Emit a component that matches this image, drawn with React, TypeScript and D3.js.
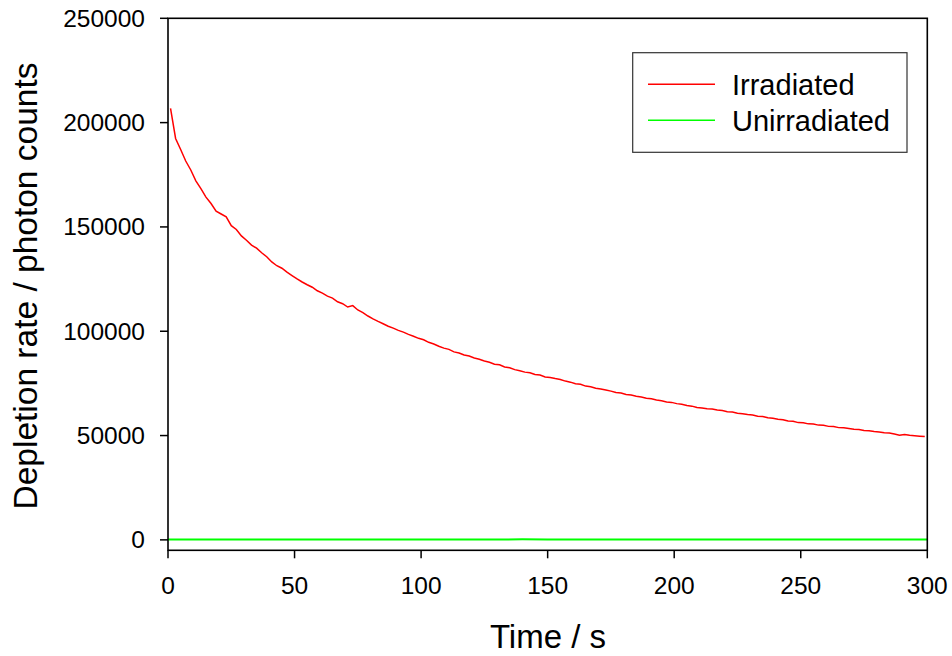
import React from "react";
import * as d3 from "d3";

// Irradiated series: sampled every 2 s starting at t = 1 s (photon counts)
const irradiatedValues: number[] = [
  206800, 192400, 187100, 181600, 177300, 172100, 168400, 164300, 161200, 157600,
  156200, 154800, 150600, 148800, 145700, 143600, 141300, 139800, 137600, 135700,
  133200, 131400, 130200, 128300, 126700, 125100, 123600, 122300, 121100, 119400,
  118300, 116800, 115900, 114100, 113200, 111600, 112300, 110200, 108900, 107300,
  105900, 104700, 103600, 102400, 101500, 100400, 99600, 98500, 97600, 96600,
  95900, 94700, 93900, 92800, 91900, 91300, 90100, 89600, 88600, 88100,
  87200, 86600, 85700, 85100, 84200, 83900, 82900, 82500, 81600, 81100,
  80400, 80100, 79300, 79000, 78100, 77800, 77300, 76900, 76100, 75600,
  74800, 74600, 73700, 73400, 72700, 72300, 71800, 71300, 70600, 70400,
  69700, 69400, 68800, 68500, 67900, 67600, 67000, 66700, 66100, 65900,
  65300, 65000, 64400, 64100, 63500, 63200, 62900, 62700, 62200, 62000,
  61400, 61300, 60700, 60500, 60100, 59900, 59300, 59100, 58500, 58300,
  57800, 57600, 57000, 56900, 56200, 56100, 55600, 55500, 55000, 54900,
  54400, 54300, 53800, 53700, 53400, 53000, 52900, 52400, 52300, 51900,
  51700, 51300, 51200, 50700, 50200, 50500, 50100, 49900, 49700, 49500,
];
const irradiatedStart = 1;
const irradiatedStep = 2;

// Unirradiated series: sampled every 10 s starting at t = 0 s
const unirradiatedValues: number[] = [
  180, 200, 170, 210, 190, 180, 200, 190, 200, 180, 210, 190, 230, 180, 240, 200,
  190, 180, 210, 200, 230, 190, 200, 180, 200, 190, 210, 200, 190, 200, 190,
];
const unirradiatedStart = 0;
const unirradiatedStep = 10;

const xTicks = [0, 50, 100, 150, 200, 250, 300];
const yTicks = [0, 50000, 100000, 150000, 200000, 250000];
const seriesNames = ["Irradiated", "Unirradiated"];
const seriesColors = ["#ff0000", "#00ff00"];

export default function App() {
  const W = 952;
  const H = 656;
  const left = 168;
  const right = 927.3;
  const top = 18.3;
  const bottom = 550.3;

  const x = d3.scaleLinear().domain([0, 300]).range([left, right]);
  const y = d3.scaleLinear().domain([-5000, 250000]).range([bottom, top]);

  const irr = irradiatedValues.map((v, i) => [irradiatedStart + i * irradiatedStep, v] as [number, number]);
  const unirr = unirradiatedValues.map((v, i) => [unirradiatedStart + i * unirradiatedStep, v] as [number, number]);

  const line = d3
    .line<[number, number]>()
    .x((d) => x(d[0]))
    .y((d) => y(d[1]));

  const font = "'Liberation Sans', Arial, sans-serif";

  return (
    <svg
      width={W}
      height={H}
      style={{ position: "absolute", left: 0, top: 0, background: "#fff" }}
      fontFamily={font}
    >
      <rect x={0} y={0} width={W} height={H} fill="#fff" />
      {/* data */}
      <path d={line(unirr) || ""} fill="none" stroke={seriesColors[1]} strokeWidth={2} />
      <path d={line(irr) || ""} fill="none" stroke={seriesColors[0]} strokeWidth={1.5} />

      {/* frame */}
      <rect
        x={left}
        y={top}
        width={right - left}
        height={bottom - top}
        fill="none"
        stroke="#000"
        strokeWidth={1.6}
      />

      {/* y ticks */}
      {yTicks.map((t) => (
        <g key={"y" + t}>
          <line x1={left - 8} x2={left} y1={y(t)} y2={y(t)} stroke="#000" strokeWidth={1.5} />
          <text
            x={left - 23}
            y={y(t)}
            textAnchor="end"
            dominantBaseline="central"
            fontSize={24.5}
            fill="#000"
          >
            {t}
          </text>
        </g>
      ))}

      {/* x ticks */}
      {xTicks.map((t) => (
        <g key={"x" + t}>
          <line x1={x(t)} x2={x(t)} y1={bottom} y2={bottom + 8} stroke="#000" strokeWidth={1.5} />
          <text x={x(t)} y={594} textAnchor="middle" fontSize={24.5} fill="#000">
            {t}
          </text>
        </g>
      ))}

      {/* axis titles */}
      <text x={548} y={648} textAnchor="middle" fontSize={33} fill="#000">
        Time / s
      </text>
      <text
        transform={`translate(37,286) rotate(-90)`}
        textAnchor="middle"
        fontSize={33.5}
        fill="#000"
      >
        Depletion rate / photon counts
      </text>

      {/* legend */}
      <rect x={632.7} y={52.7} width={274.3} height={99.6} fill="#fff" stroke="#333" strokeWidth={1.2} />
      {seriesNames.map((name, i) => (
        <g key={name}>
          <line
            x1={648}
            x2={715}
            y1={84.3 + i * 36}
            y2={84.3 + i * 36}
            stroke={seriesColors[i]}
            strokeWidth={1.5}
          />
          <text x={732} y={95 + i * 36} fontSize={29} fill="#000">
            {name}
          </text>
        </g>
      ))}
    </svg>
  );
}
